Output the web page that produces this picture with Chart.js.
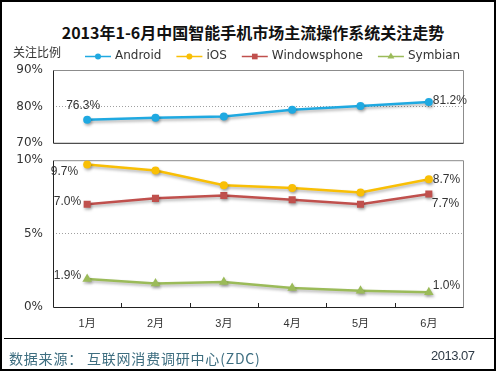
<!DOCTYPE html>
<html>
<head>
<meta charset="utf-8">
<script src="https://cdn.jsdelivr.net/npm/chart.js@4.4.0/dist/chart.umd.min.js"></script>
<style>
  body { margin: 0; background: #fff; }
  #frame { position: absolute; left: 0; top: 0; width: 492px; height: 367px; border: 2px solid #000; }
  #title { position: absolute; left: 0; top: 20px; width: 506px; text-align: center; line-height: 20px;
           font: bold 16px "Noto Sans CJK SC", sans-serif; color: #111; }
  canvas { position: absolute; left: 0; }
  #topChart { top: 40px; }
  #bottomChart { top: 143px; }
  #rule { position: absolute; left: 4px; top: 338px; width: 491px; height: 1px; background: #000; }
  #source { position: absolute; left: 9px; top: 348px; line-height: 18px; letter-spacing: 0.8px;
            font: 14px "Noto Sans CJK SC", sans-serif; color: #3e6e80; }
  #date { position: absolute; left: 431px; top: 348px; line-height: 18px; letter-spacing: -0.5px;
          font: 13px "Liberation Sans", sans-serif; color: #2e3a46; }
</style>
</head>
<body>
<div id="frame"></div>
<div id="title">2013年1-6月中国智能手机市场主流操作系统关注走势</div>
<canvas id="topChart" width="500" height="120"></canvas>
<canvas id="bottomChart" width="500" height="197"></canvas>
<div id="rule"></div>
<div id="source">数据来源： 互联网消费调研中心(ZDC)</div>
<div id="date">2013.07</div>

<script>
const months = ["1月", "2月", "3月", "4月", "5月", "6月"];
const seriesNames = ["Android", "iOS", "Windowsphone", "Symbian"];
const androidData = [76.3, 76.9, 77.2, 79.1, 80.1, 81.2];
const iosData = [9.7, 9.3, 8.3, 8.1, 7.8, 8.7];
const wpData = [7.0, 7.4, 7.6, 7.3, 7.0, 7.7];
const symbianData = [1.9, 1.6, 1.7, 1.3, 1.1, 1.0];
const topRange = [70, 90, 10];     // min, max, step
const bottomRange = [0, 10, 5];
const axisTitle = "关注比例";

// looks of each series, in the order of seriesNames
const seriesStyle = [
  { color: "#1fa9e1", pointStyle: "circle", radius: 4, legendRadius: 3 },
  { color: "#f9bf05", pointStyle: "circle", radius: 4, legendRadius: 3 },
  { color: "#c0504d", pointStyle: "rect", radius: 5, legendRadius: 4 },
  { color: "#9bbb59", pointStyle: "triangle", radius: 5.5, legendRadius: 4 },
];
// where the first / last value labels sit relative to their point
const labelSpots = [
  { first: { dx: -4, dy: -14, align: "center" }, last: { dx: 4, dy: -1, align: "left" } },
  { first: { dx: -9, dy: 7, align: "right" }, last: { dx: 4, dy: 0, align: "left" } },
  { first: { dx: -6, dy: -3, align: "right" }, last: { dx: 3, dy: 10, align: "left" } },
  { first: { dx: -6, dy: -3, align: "right" }, last: { dx: 4, dy: -7, align: "left" } },
];

function makeSet(idx, data) {
  const st = seriesStyle[idx];
  return {
    label: seriesNames[idx],
    data: data,
    borderColor: st.color,
    backgroundColor: st.color,
    pointBackgroundColor: st.color,
    pointBorderWidth: 0,
    pointStyle: st.pointStyle,
    pointRadius: st.radius,
    borderWidth: 2.5,
    tension: 0,
    styleIndex: idx,
  };
}

// frame, shadows and the first/last labels
const panelPlugin = {
  id: "panel",
  beforeDatasetsDraw(chart) {
    const a = chart.chartArea;
    const ctx = chart.ctx;
    ctx.save();
    ctx.lineWidth = 1;
    ctx.strokeStyle = "#8c8c8c";
    ctx.beginPath();
    ctx.moveTo(a.left + 0.5, a.top + 0.5);
    ctx.lineTo(a.right + 0.5, a.top + 0.5);
    ctx.lineTo(a.right + 0.5, a.bottom + 0.5);
    ctx.stroke();
    ctx.strokeStyle = "#222";
    ctx.beginPath();
    ctx.moveTo(a.left + 0.5, a.top + 0.5);
    ctx.lineTo(a.left + 0.5, a.bottom + 0.5);
    ctx.lineTo(a.right + 0.5, a.bottom + 0.5);
    ctx.stroke();
    if (chart.options.plugins.panel.ticks) {
      const xs = chart.scales.x;
      for (let i = 1; i < months.length; i++) {
        const px = Math.round((xs.getPixelForValue(i - 1) + xs.getPixelForValue(i)) / 2) + 0.5;
        ctx.beginPath();
        ctx.moveTo(px, a.bottom);
        ctx.lineTo(px, a.bottom - 4);
        ctx.stroke();
      }
    }
    ctx.restore();
    ctx.save();
    ctx.shadowColor = "rgba(0,0,0,0.3)";
    ctx.shadowBlur = 3;
    ctx.shadowOffsetX = 1;
    ctx.shadowOffsetY = 2;
  },
  afterDatasetsDraw(chart) {
    const ctx = chart.ctx;
    ctx.restore();
    ctx.save();
    ctx.font = '12px "Liberation Sans"';
    ctx.fillStyle = "#333";
    ctx.textBaseline = "middle";
    chart.data.datasets.forEach((ds, i) => {
      const pts = chart.getDatasetMeta(i).data;
      const spot = labelSpots[ds.styleIndex];
      [["first", 0], ["last", pts.length - 1]].forEach(([k, j]) => {
        const s = spot[k];
        ctx.textAlign = s.align;
        ctx.fillText(ds.data[j].toFixed(1) + "%", pts[j].x + s.dx, pts[j].y + s.dy);
      });
    });
    ctx.restore();
  },
};

// "关注比例" and the legend row above the upper panel
const legendPlugin = {
  id: "legendRow",
  afterDraw(chart) {
    const ctx = chart.ctx;
    const y = 16;
    ctx.save();
    ctx.textBaseline = "middle";
    ctx.fillStyle = "#333";
    ctx.font = '12px "Noto Sans CJK SC"';
    ctx.fillText(axisTitle, 13, 12);
    ctx.font = '12px "DejaVu Sans"';
    let x = 85;
    seriesNames.forEach((name, i) => {
      const st = seriesStyle[i];
      ctx.strokeStyle = st.color;
      ctx.lineWidth = 1.5;
      ctx.beginPath();
      ctx.moveTo(x, y + 0.5);
      ctx.lineTo(x + 26, y + 0.5);
      ctx.stroke();
      ctx.fillStyle = st.color;
      Chart.helpers.drawPoint(ctx, { pointStyle: st.pointStyle, radius: st.legendRadius, borderWidth: 0 }, x + 13, y + 0.5);
      ctx.fillStyle = "#333";
      ctx.fillText(name, x + 30, y);
      x += 30 + ctx.measureText(name).width + 15;
    });
    ctx.restore();
  },
};

function yScale(range, midValue) {
  return {
    min: range[0],
    max: range[1],
    afterFit(scale) { scale.width = 53; },
    grid: {
      drawTicks: false,
      color: (c) => (c.tick && c.tick.value === midValue ? "#a0a0a0" : "rgba(0,0,0,0)"),
      lineWidth: 1,
    },
    border: { display: false, dash: [1, 2] },
    ticks: {
      stepSize: range[2],
      padding: 10,
      color: "#333",
      font: { family: "DejaVu Sans", size: 12 },
      callback: (v) => v + "%",
    },
  };
}

const topChart = new Chart(document.getElementById("topChart"), {
  type: "line",
  data: { labels: months, datasets: [makeSet(0, androidData)] },
  options: {
    responsive: false,
    animation: false,
    layout: { padding: { top: 30, right: 37, bottom: 1, left: 0 } },
    scales: {
      x: { display: false, offset: true },
      y: yScale(topRange, 80),
    },
    plugins: { legend: { display: false }, tooltip: { enabled: false }, panel: { ticks: false } },
  },
  plugins: [panelPlugin, legendPlugin],
});

const bottomChart = new Chart(document.getElementById("bottomChart"), {
  type: "line",
  data: {
    labels: months,
    datasets: [makeSet(1, iosData), makeSet(2, wpData), makeSet(3, symbianData)],
  },
  options: {
    responsive: false,
    animation: false,
    layout: { padding: { top: 3, right: 37, bottom: 0, left: 0 } },
    scales: {
      x: {
        offset: true,
        afterFit(scale) { scale.height = 33; },
        grid: { display: false, drawTicks: false },
        border: { display: false },
        ticks: { padding: 10, color: "#333", font: { family: "Liberation Sans, Noto Sans CJK SC", size: 11 } },
      },
      y: yScale(bottomRange, 5),
    },
    plugins: { legend: { display: false }, tooltip: { enabled: false }, panel: { ticks: true } },
  },
  plugins: [panelPlugin],
});
</script>
</body>
</html>
